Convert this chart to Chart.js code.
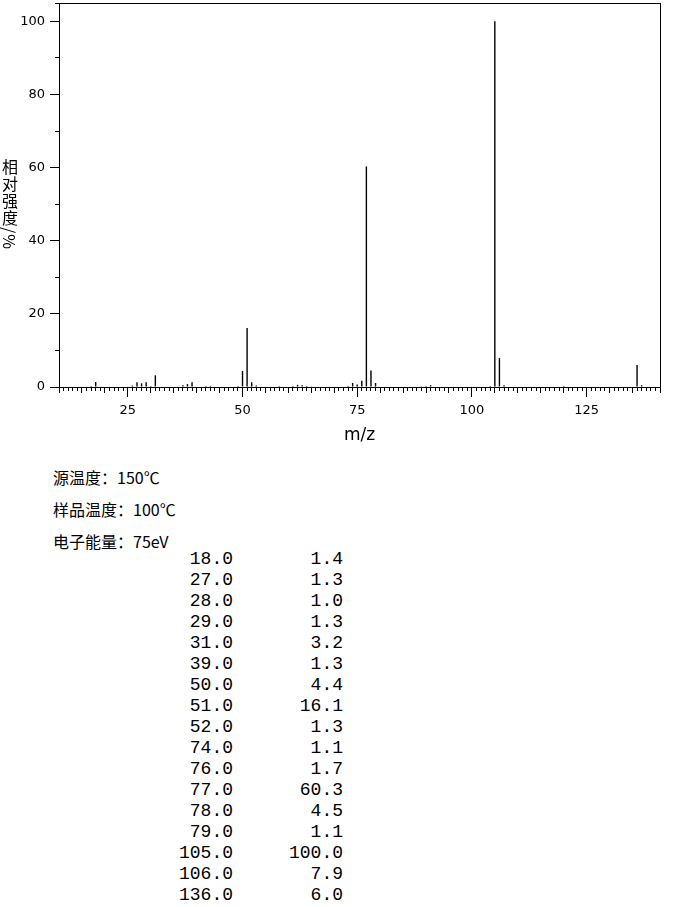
<!DOCTYPE html>
<html><head><meta charset="utf-8">
<script src="https://cdn.jsdelivr.net/npm/chart.js@4.4.1/dist/chart.umd.min.js"></script>
<style>
html,body{margin:0;padding:0;background:#fff;width:680px;height:907px;overflow:hidden;}
#wrap{position:relative;width:680px;height:907px;}
canvas{position:absolute;left:0;top:0;}
.ytitle{position:absolute;left:2px;top:159px;writing-mode:vertical-rl;font-family:"Noto Sans CJK SC";font-size:16px;line-height:16px;letter-spacing:1px;color:#000;}
.info{position:absolute;left:53px;height:20px;font-family:"Noto Sans CJK SC";font-size:16px;line-height:20px;color:#000;white-space:nowrap;}
.row{position:absolute;left:0;width:680px;height:21px;line-height:21px;font-family:"Liberation Mono";font-size:18px;color:#000;white-space:pre;}
.row span{position:absolute;top:0;text-align:right;width:100px;}
</style></head><body>
<div id="wrap">
<canvas id="c" width="680" height="450"></canvas>
<div class="ytitle" id="ytitle"></div>
<div id="info"></div>
<div id="table"></div>
</div>
<script>
// m/z values and relative intensities (%)
const mzValues = [17, 18, 26, 27, 28, 29, 30, 31, 37, 38, 39, 42, 43, 49, 50, 51, 52, 53,
  58, 61, 62, 63, 64, 65, 73, 74, 75, 76, 77, 78, 79, 89, 90, 91, 104, 105, 106, 107, 120, 136, 137];
const intensities = [0.3, 1.4, 0.4, 1.3, 1.0, 1.3, 0.3, 3.2, 0.5, 0.8, 1.3, 0.3, 0.3, 0.3, 4.4, 16.1, 1.3, 0.4,
  0.3, 0.3, 0.6, 0.5, 0.3, 0.2, 0.3, 1.1, 0.7, 1.7, 60.3, 4.5, 1.1, 0.2, 0.3, 0.5, 0.3, 100.0, 7.9, 0.5, 0.3, 6.0, 0.5];
const xTickValues = [25, 50, 75, 100, 125];
const yTickValues = [0, 20, 40, 60, 80, 100];
const xMin = 10, xMax = 141;
const yMin = 0, yMax = 105;
const xTitle = 'm/z';
const yTitle = '相对强度/%';
const infoLines = ['源温度：150℃', '样品温度：100℃', '电子能量：75eV'];
const tableThreshold = 1.0;

document.getElementById('ytitle').textContent = yTitle;

const infoTops = [466.5, 499, 530.5];
const infoEl = document.getElementById('info');
infoLines.forEach((t, i) => {
  const d = document.createElement('div');
  d.className = 'info';
  d.style.top = infoTops[i] + 'px';
  d.textContent = t;
  infoEl.appendChild(d);
});

const tableEl = document.getElementById('table');
let r = 0;
mzValues.forEach((m, i) => {
  if (intensities[i] < tableThreshold) return;
  const d = document.createElement('div');
  d.className = 'row';
  d.style.top = (548.5 + 21 * r) + 'px';
  const a = document.createElement('span');
  a.style.left = '133px';
  a.textContent = m.toFixed(1);
  const b = document.createElement('span');
  b.style.left = '243px';
  b.textContent = intensities[i].toFixed(1);
  d.appendChild(a); d.appendChild(b);
  tableEl.appendChild(d);
  r++;
});

const tickFont = {family: 'DejaVu Sans', size: 13};
const points = mzValues.map((m, i) => ({x: m, y: intensities[i]}));

function minorX(step, len) {
  return {
    type: 'linear', axis: 'x', position: {y: 0}, min: xMin, max: xMax, offset: false,
    grid: {offset: false, drawOnChartArea: false, color: '#000', tickLength: len, lineWidth: 1},
    border: {display: false},
    ticks: {display: false, stepSize: step}
  };
}

new Chart(document.getElementById('c'), {
  type: 'bar',
  data: {datasets: [{
    data: points, backgroundColor: '#000', borderWidth: 0, barThickness: 1.4, inflateAmount: 0,
    xAxisID: 'x', yAxisID: 'y'
  }]},
  options: {
    responsive: false, animation: false, devicePixelRatio: 1,
    layout: {padding: {top: 3, right: 20, left: 0, bottom: 0}},
    plugins: {legend: {display: false}, tooltip: {enabled: false}},
    scales: {
      x: {
        type: 'linear', axis: 'x', position: 'bottom', min: xMin, max: xMax, offset: false,
        grid: {offset: false, drawOnChartArea: false, color: '#000', tickLength: 10, lineWidth: 1},
        border: {display: true, color: '#000', width: 1},
        ticks: {color: '#000', font: tickFont, padding: 6, maxRotation: 0, autoSkip: false},
        afterBuildTicks: s => { s.ticks = xTickValues.map(v => ({value: v})); },
        afterFit: s => { s.height = 63; s.paddingLeft = 0; s.paddingRight = 0; },
        title: {display: true, text: xTitle, color: '#000', font: {family: 'DejaVu Sans', size: 17}, padding: {top: 0, bottom: 4}}
      },
      x5: minorX(5, 6),
      x1: minorX(1, 4),
      xTop: {
        type: 'linear', axis: 'x', position: {y: yMax}, min: xMin, max: xMax, offset: false,
        grid: {offset: false, drawOnChartArea: false, drawTicks: false},
        border: {display: true, color: '#000', width: 1},
        ticks: {display: false}
      },
      y: {
        type: 'linear', axis: 'y', position: 'left', min: yMin, max: yMax,
        grid: {drawOnChartArea: false, color: '#000', tickLength: 9, lineWidth: 1},
        border: {display: true, color: '#000', width: 1},
        ticks: {color: '#000', font: tickFont, padding: 5},
        afterBuildTicks: s => { s.ticks = yTickValues.map(v => ({value: v})); },
        afterFit: s => { s.width = 59; s.paddingTop = 0; s.paddingBottom = 0; }
      },
      y10: {
        type: 'linear', axis: 'y', position: {x: xMin}, min: yMin, max: yMax,
        grid: {drawOnChartArea: false, color: '#000', tickLength: 4, lineWidth: 1},
        border: {display: false},
        ticks: {display: false, stepSize: 10}
      },
      yRight: {
        type: 'linear', axis: 'y', position: {x: xMax}, min: yMin, max: yMax,
        grid: {drawOnChartArea: false, drawTicks: false},
        border: {display: true, color: '#000', width: 1},
        ticks: {display: false}
      }
    }
  }
});
</script>
</body></html>
